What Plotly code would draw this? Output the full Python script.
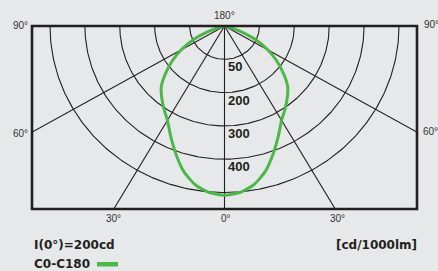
import numpy as np
import plotly.graph_objects as go

# ---- data ----
gamma_deg = [0, 5, 10, 15, 20, 25, 30, 35, 40, 45, 50, 55, 60, 65, 70, 75, 80, 85, 90]
c0_c180 = [508, 502, 484, 452, 408, 365, 327, 303, 280, 256, 220, 183, 143, 100, 50, 15, 0, 0, 0]
ring_values = [100, 200, 300, 400, 500]
ring_labels = ["50", "200", "300", "400"]
spoke_angles = [-90, -60, -30, 0, 30, 60, 90]
angle_labels = {"90": "90°", "60": "60°", "30": "30°", "0": "0°", "180": "180°"}
info_text = "I(0°)=200cd"
unit_text = "[cd/1000lm]"
series_name = "C0-C180"

GREEN = "#4cb848"
INK = "#231f20"
BG = "#e7e8e9"

W, H = 438, 271
ML, MR, MT, MB = 32, 21, 26, 62
XHALF = 551.6
YDEPTH = 549.5

fig = go.Figure()

# rings
t = np.linspace(0, np.pi, 241)
for R in ring_values:
    fig.add_trace(go.Scatter(x=R * np.cos(t), y=-R * np.sin(t), mode="lines",
                             line=dict(color=INK, width=1.1), hoverinfo="skip", showlegend=False))

# spokes
for a in spoke_angles:
    ar = np.radians(a)
    L = 3000
    fig.add_trace(go.Scatter(x=[0, L * np.sin(ar)], y=[0, -L * np.cos(ar)], mode="lines",
                             line=dict(color=INK, width=1.1), hoverinfo="skip", showlegend=False))

# curve (C0 - C180 plane, mirrored)
ang = np.array([-g for g in gamma_deg[::-1]] + gamma_deg[1:], dtype=float)
val = np.array(c0_c180[::-1] + c0_c180[1:], dtype=float)
th = np.radians(ang)
fig.add_trace(go.Scatter(x=val * np.sin(th), y=-val * np.cos(th), mode="lines",
                         line=dict(color=GREEN, width=3, shape="spline", smoothing=0.6),
                         name=series_name, showlegend=False, hoverinfo="skip"))

ann = []
# ring labels
for R, lab in zip(ring_values, ring_labels):
    ann.append(dict(x=0, y=-R, xref="x", yref="y", text=lab, showarrow=False,
                    xanchor="left", yanchor="middle", xshift=1, yshift=-7.5,
                    font=dict(family="Liberation Sans, Arial", size=13, color=INK, weight="bold")))

af = dict(family="Liberation Sans, Arial", size=10, color="#333333")
ann += [
    dict(x=0, y=1, xref="paper", yref="paper", text=angle_labels["90"], showarrow=False,
         xanchor="right", yanchor="middle", xshift=-2, yshift=1, font=af),
    dict(x=1, y=1, xref="paper", yref="paper", text=angle_labels["90"], showarrow=False,
         xanchor="left", yanchor="middle", xshift=5, yshift=2, font=af),
    dict(x=0, y=1, xref="x", yref="paper", text=angle_labels["180"], showarrow=False,
         xanchor="center", yanchor="bottom", yshift=3, font=af),
    dict(x=0, y=-XHALF / np.tan(np.radians(60)), xref="paper", yref="y", text=angle_labels["60"],
         showarrow=False, xanchor="right", yanchor="middle", xshift=-2, yshift=-1, font=af),
    dict(x=1, y=-XHALF / np.tan(np.radians(60)), xref="paper", yref="y", text=angle_labels["60"],
         showarrow=False, xanchor="left", yanchor="middle", xshift=4, yshift=1, font=af),
    dict(x=-YDEPTH * np.tan(np.radians(30)), y=0, xref="x", yref="paper", text=angle_labels["30"],
         showarrow=False, xanchor="center", yanchor="middle", yshift=-9, font=af),
    dict(x=YDEPTH * np.tan(np.radians(30)), y=0, xref="x", yref="paper", text=angle_labels["30"],
         showarrow=False, xanchor="center", yanchor="middle", xshift=2, yshift=-9, font=af),
    dict(x=0, y=0, xref="x", yref="paper", text=angle_labels["0"], showarrow=False,
         xanchor="center", yanchor="middle", xshift=1, yshift=-9, font=af),
]

bf = dict(family="DejaVu Sans", size=12, color=INK, weight="bold")
ann += [
    dict(x=0, y=0, xref="paper", yref="paper", text=info_text, showarrow=False,
         xanchor="left", yanchor="middle", xshift=0, yshift=-36, font=bf),
    dict(x=1, y=0, xref="paper", yref="paper", text=unit_text, showarrow=False,
         xanchor="right", yanchor="middle", xshift=2, yshift=-36, font=bf),
    dict(x=0, y=0, xref="paper", yref="paper", text=series_name, showarrow=False,
         xanchor="left", yanchor="middle", xshift=0, yshift=-54.5, font=bf),
]

pw = W - ML - MR
ph = H - MT - MB
shapes = [
    dict(type="rect", xref="paper", yref="paper", x0=0, x1=1, y0=0, y1=1,
         line=dict(color=INK, width=2.6), layer="above"),
    dict(type="rect", xref="paper", yref="paper",
         x0=(97 - ML) / pw, x1=(118 - ML) / pw,
         y0=-(262 - (H - MB)) / ph, y1=-(266.5 - (H - MB)) / ph,
         line=dict(width=0), fillcolor=GREEN),
]

fig.update_layout(
    width=W, height=H, autosize=False,
    margin=dict(l=ML, r=MR, t=MT, b=MB, pad=0),
    paper_bgcolor=BG, plot_bgcolor=BG,
    xaxis=dict(range=[-XHALF, XHALF], visible=False, showgrid=False, zeroline=False, fixedrange=True),
    yaxis=dict(range=[-YDEPTH, 0], visible=False, showgrid=False, zeroline=False, fixedrange=True),
    annotations=ann, shapes=shapes, showlegend=False,
)

fig.write_html(
    "out.html",
    config={"displayModeBar": False},
    post_script=(
        "document.documentElement.style.margin='0';"
        "document.body.style.margin='0';document.body.style.padding='0';"
        "document.body.style.overflow='hidden';"
        f"document.body.style.background='{BG}';"
    ),
)
